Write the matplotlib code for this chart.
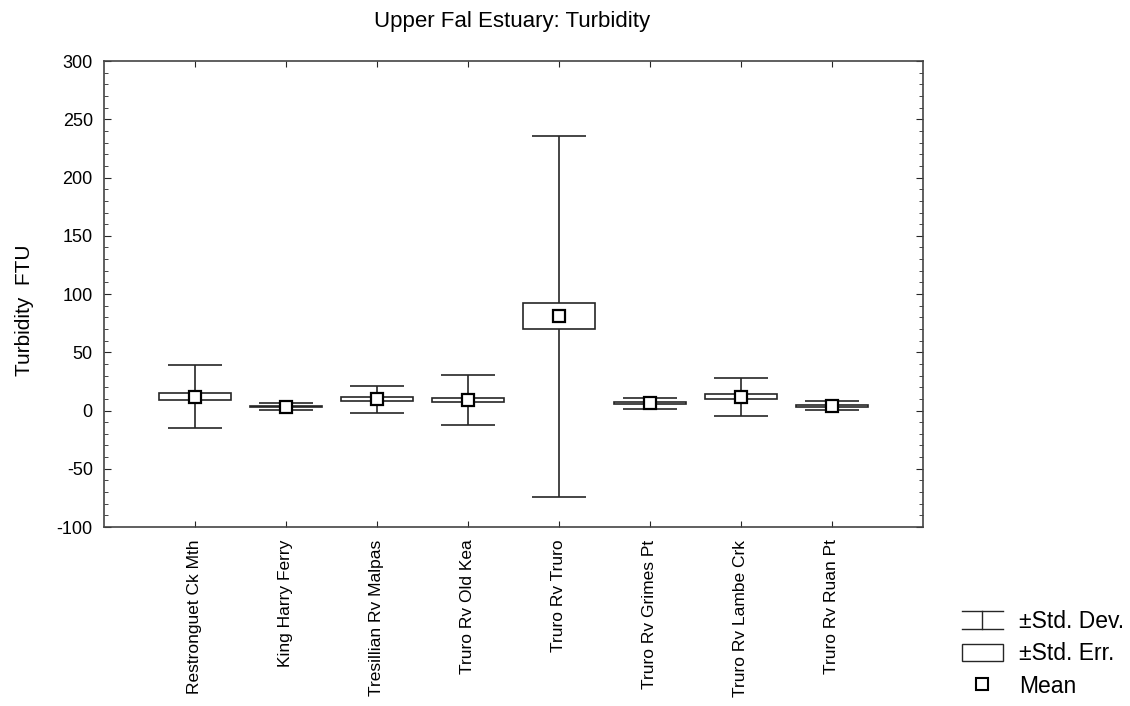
import matplotlib
matplotlib.use("Agg")
import matplotlib.pyplot as plt
from matplotlib.lines import Line2D
from matplotlib.patches import Patch
from matplotlib.ticker import MultipleLocator

plt.rcParams['font.family'] = ['Liberation Sans', 'DejaVu Sans']
plt.rcParams['axes.unicode_minus'] = False

sites = ["Restronguet Ck Mth", "King Harry Ferry", "Tresillian Rv Malpas",
         "Truro Rv Old Kea", "Truro Rv Truro", "Truro Rv Grimes Pt",
         "Truro Rv Lambe Crk", "Truro Rv Ruan Pt"]
means = [11.9, 3.4, 9.7, 8.8, 80.9, 6.1, 11.8, 4.0]
std_dev = [27.2, 2.9, 11.7, 21.4, 154.8, 5.0, 16.2, 3.9]
std_err = [3.0, 0.7, 1.6, 1.75, 11.0, 0.9, 2.0, 0.7]

LINE = '#262626'


class CapHandler:
    """Legend symbol for the ±SD whisker: two caps joined by a stem."""

    def legend_artist(self, legend, orig_handle, fontsize, handlebox):
        x0, y0 = -handlebox.xdescent, -handlebox.ydescent
        w, h = handlebox.width, handlebox.height
        parts = [Line2D([x0, x0 + w], [y0 + h, y0 + h]),
                 Line2D([x0, x0 + w], [y0, y0]),
                 Line2D([x0 + w / 2, x0 + w / 2], [y0, y0 + h])]
        for p in parts:
            p.set_color(LINE)
            p.set_linewidth(1.0)
            handlebox.add_artist(p)
        return parts[0]


fig = plt.figure(figsize=(11.3, 7.06), dpi=100)
ax = fig.add_axes([0.092, 0.2535, 0.7248, 0.66])

x = list(range(1, len(sites) + 1))
lo_sd = [m - s for m, s in zip(means, std_dev)]
hi_sd = [m + s for m, s in zip(means, std_dev)]
lo_se = [m - s for m, s in zip(means, std_err)]

ax.vlines(x, lo_sd, hi_sd, color=LINE, linewidth=1.2, zorder=2)
ax.hlines(lo_sd, [i - 0.3 for i in x], [i + 0.3 for i in x],
          color=LINE, linewidth=1.2, zorder=2)
ax.hlines(hi_sd, [i - 0.3 for i in x], [i + 0.3 for i in x],
          color=LINE, linewidth=1.2, zorder=2)
ax.bar(x, [2 * s for s in std_err], bottom=lo_se, width=0.8,
       facecolor='white', edgecolor=LINE, linewidth=1.2, zorder=3)
ax.plot(x, means, linestyle='none', marker='s', markersize=8,
        markerfacecolor='white', markeredgecolor='black',
        markeredgewidth=1.6, zorder=4)

ax.set_xlim(0, len(sites) + 1)
ax.set_ylim(-100, 300)
ax.set_xticks(x)
ax.set_xticklabels(sites, rotation=90, fontsize=12.5)
ax.yaxis.set_major_locator(MultipleLocator(50))
ax.yaxis.set_minor_locator(MultipleLocator(10))
ax.tick_params(axis='y', which='both', direction='in', left=True,
               right=True, labelsize=13, pad=8, color=LINE)
ax.tick_params(axis='y', which='major', length=5)
ax.tick_params(axis='y', which='minor', length=3)
ax.tick_params(axis='x', direction='in', top=True, bottom=True,
               length=4, pad=9, color=LINE)
for sp in ax.spines.values():
    sp.set_color('#444444')
    sp.set_linewidth(1.2)

ax.set_ylabel("Turbidity  FTU", fontsize=15)
ax.yaxis.set_label_coords(-0.085, 0.466)
fig.text(512 / 1130, 1 - 22 / 706, "Upper Fal Estuary: Turbidity",
         ha='center', va='center', fontsize=16)

handles = [Line2D([], []),
           Patch(facecolor='white', edgecolor=LINE, linewidth=1.0),
           Line2D([], [], linestyle='none', marker='s', markersize=8,
                  markerfacecolor='white', markeredgecolor='black',
                  markeredgewidth=1.5)]
labels = ["±Std. Dev.", "±Std. Err.", "Mean"]
fig.legend(handles, labels, handler_map={handles[0]: CapHandler()},
           loc='lower left', bbox_to_anchor=(962 / 1130, 0.012),
           frameon=False, fontsize=16.5, borderpad=0, borderaxespad=0,
           handlelength=1.78, handleheight=0.8, handletextpad=0.7,
           labelspacing=0.4)

fig.savefig("out.png", dpi=100)
